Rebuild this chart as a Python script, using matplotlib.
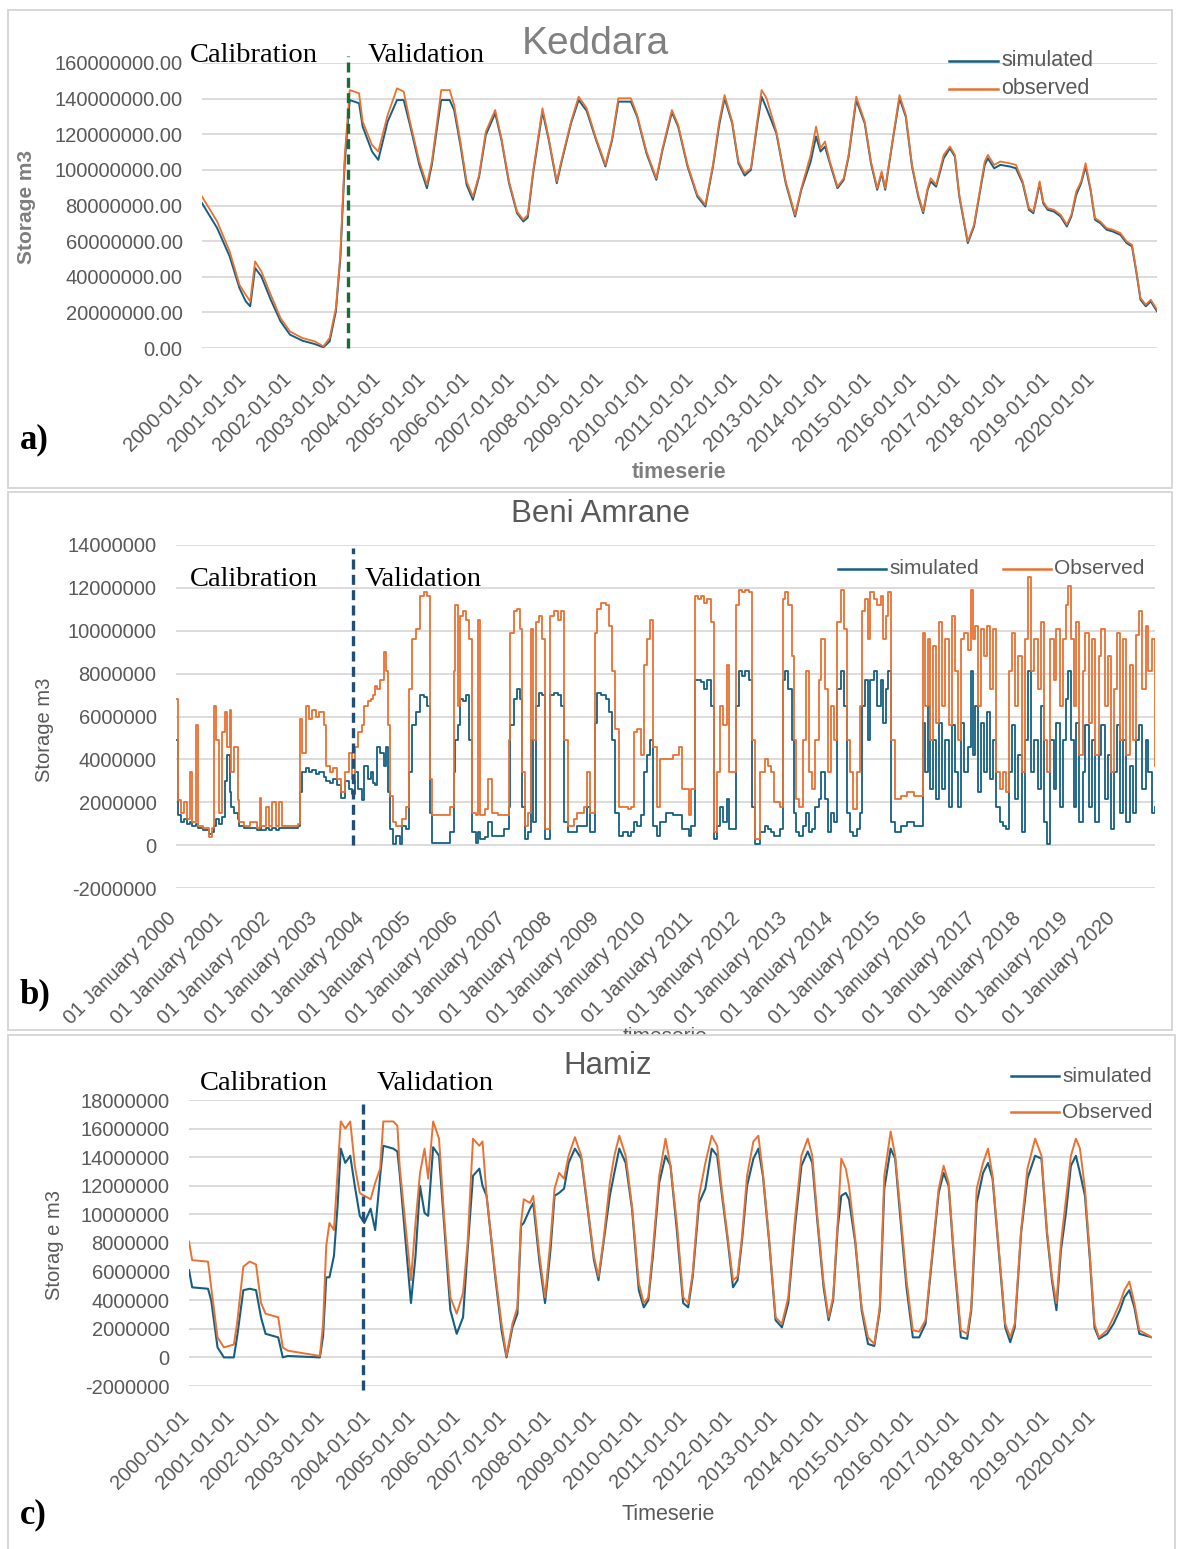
import numpy as np
import matplotlib.pyplot as plt
import matplotlib.dates as mdates
import matplotlib.transforms as mtransforms
from matplotlib.patches import Rectangle
from matplotlib.lines import Line2D
from matplotlib.ticker import FuncFormatter, MultipleLocator

plt.rcParams['font.family'] = ['Liberation Sans', 'DejaVu Sans']
plt.rcParams['axes.unicode_minus'] = False

# ---- Keddara storage (million m3), decimal years ----
keddara_years = [
    2000.00, 2000.34, 2000.62, 2000.84, 2000.98, 2001.08, 2001.19, 2001.33, 2001.54, 2001.76,
    2001.97, 2002.25, 2002.53, 2002.72, 2002.86, 2003.00, 2003.10, 2003.20, 2003.31, 2003.52,
    2003.60, 2003.81, 2003.95, 2004.16, 2004.37, 2004.52, 2004.66, 2004.87, 2005.04, 2005.15,
    2005.27, 2005.36, 2005.55, 2005.65, 2005.79, 2005.93, 2006.07, 2006.21, 2006.36, 2006.57,
    2006.71, 2006.88, 2007.06, 2007.20, 2007.30, 2007.42, 2007.63, 2007.77, 2007.95, 2008.05,
    2008.27, 2008.44, 2008.62, 2008.83, 2009.04, 2009.19, 2009.33, 2009.61, 2009.75, 2009.96,
    2010.18, 2010.32, 2010.53, 2010.67, 2010.88, 2011.10, 2011.28, 2011.45, 2011.59, 2011.71,
    2011.88, 2012.02, 2012.16, 2012.30, 2012.44, 2012.54, 2012.65, 2012.87, 2013.08, 2013.29,
    2013.43, 2013.64, 2013.76, 2013.86, 2013.96, 2014.07, 2014.24, 2014.38, 2014.49, 2014.66,
    2014.85, 2014.99, 2015.13, 2015.23, 2015.31, 2015.48, 2015.63, 2015.77, 2015.91, 2016.05,
    2016.16, 2016.26, 2016.33, 2016.45, 2016.62, 2016.76, 2016.87, 2016.97, 2017.16, 2017.30,
    2017.44, 2017.54, 2017.61, 2017.75, 2017.89, 2018.10, 2018.24, 2018.39, 2018.53, 2018.63,
    2018.71, 2018.77, 2018.85, 2018.95, 2019.09, 2019.24, 2019.38, 2019.48, 2019.59, 2019.70,
    2019.80, 2019.91, 2020.01, 2020.13, 2020.27, 2020.41, 2020.58, 2020.72, 2020.84, 2020.94,
    2021.03, 2021.15, 2021.26, 2021.40]
keddara_obs = [
    85.0, 71.0, 54.2, 35.5, 29.9, 26.2, 48.6, 43.0, 29.9, 16.8,
    9.3, 5.6, 3.7, 0.9, 5.6, 22.4, 52.3, 108.4, 144.8, 143.0,
    127.1, 114.0, 110.3, 130.8, 145.8, 143.9, 127.1, 104.7, 91.6, 104.7,
    127.1, 144.8, 144.8, 136.4, 115.9, 93.5, 85.0, 97.2, 121.5, 133.6,
    117.7, 93.5, 76.6, 72.0, 74.8, 99.1, 134.6, 117.7, 93.5, 104.7,
    127.1, 141.1, 134.6, 117.7, 102.8, 117.7, 140.2, 140.2, 130.8, 110.3,
    95.3, 112.1, 133.6, 125.2, 102.8, 86.0, 80.4, 102.8, 127.1, 142.0,
    127.1, 104.7, 98.1, 100.9, 127.1, 144.8, 140.2, 121.5, 93.5, 74.8,
    89.7, 108.4, 124.3, 112.1, 115.9, 104.7, 90.6, 95.3, 108.4, 141.1,
    127.1, 104.7, 89.7, 99.1, 89.7, 117.7, 142.0, 130.8, 102.8, 86.0,
    76.6, 89.7, 95.3, 91.6, 108.4, 113.1, 108.4, 86.0, 59.8, 69.2,
    89.7, 104.7, 108.4, 102.8, 104.7, 103.7, 102.8, 93.5, 78.5, 76.6,
    86.0, 93.5, 82.2, 78.5, 77.6, 74.8, 69.2, 74.8, 87.8, 93.5,
    103.7, 89.7, 72.9, 71.0, 67.3, 66.4, 64.5, 59.8, 57.9, 43.0,
    28.0, 24.3, 27.1, 21.5]
keddara_sim = [
    81.3, 67.3, 51.4, 33.6, 26.2, 23.4, 44.9, 40.2, 27.1, 15.0,
    7.5, 4.1, 2.2, 0.4, 3.7, 20.6, 50.5, 104.7, 139.2, 137.4,
    124.3, 110.3, 105.6, 127.1, 139.2, 139.2, 125.2, 102.8, 89.7, 102.8,
    124.3, 139.2, 139.2, 133.6, 114.0, 91.6, 83.2, 96.3, 119.6, 131.8,
    116.8, 92.5, 75.7, 71.0, 73.3, 98.1, 132.7, 116.8, 92.5, 103.7,
    126.2, 139.2, 133.1, 116.8, 101.9, 116.8, 138.3, 138.3, 129.9, 109.3,
    94.4, 111.2, 132.3, 124.3, 101.9, 85.0, 79.4, 101.9, 125.2, 140.2,
    126.2, 103.7, 96.8, 100.0, 125.2, 141.1, 134.6, 120.6, 92.5, 73.8,
    88.8, 104.7, 118.7, 110.3, 113.1, 103.7, 89.7, 94.4, 107.5, 139.2,
    126.2, 103.7, 88.8, 98.1, 88.8, 116.8, 140.2, 129.9, 101.9, 85.0,
    75.7, 88.8, 93.5, 90.6, 106.5, 112.1, 107.5, 85.0, 58.9, 68.2,
    88.8, 102.8, 106.5, 100.9, 102.8, 101.9, 100.9, 92.5, 77.6, 75.7,
    85.0, 92.5, 81.3, 77.6, 76.6, 73.8, 68.2, 73.8, 86.0, 92.5,
    101.9, 88.8, 72.0, 70.1, 66.4, 65.4, 63.5, 58.9, 57.0, 42.1,
    27.1, 23.4, 26.2, 20.6]
keddara_split = 2003.27

# ---- Beni Amrane storage (million m3) ----
beni_years = [
    2000.00, 2000.05, 2000.10, 2000.16, 2000.23, 2000.30, 2000.34, 2000.43, 2000.47, 2000.57,
    2000.70, 2000.77, 2000.81, 2000.86, 2000.91, 2000.97, 2001.04, 2001.08, 2001.14, 2001.18,
    2001.24, 2001.31, 2001.35, 2001.45, 2001.58, 2001.72, 2001.78, 2001.82, 2001.92, 2001.99,
    2002.05, 2002.12, 2002.19, 2002.26, 2002.39, 2002.60, 2002.64, 2002.69, 2002.76, 2002.84,
    2002.89, 2002.97, 2003.05, 2003.14, 2003.20, 2003.27, 2003.35, 2003.43, 2003.51, 2003.59,
    2003.68, 2003.74,
    2003.81, 2003.88, 2003.95, 2004.01, 2004.08, 2004.15, 2004.19, 2004.24, 2004.28, 2004.35,
    2004.42, 2004.46, 2004.51, 2004.55, 2004.62, 2004.69, 2004.76, 2004.82, 2004.89, 2004.96,
    2005.03, 2005.10, 2005.19, 2005.27, 2005.34, 2005.41, 2005.46, 2005.57, 2005.70, 2005.84,
    2005.91, 2005.93, 2006.00, 2006.04, 2006.11, 2006.18, 2006.24, 2006.31, 2006.38, 2006.42,
    2006.47, 2006.58, 2006.65, 2006.72, 2006.85, 2006.99, 2007.08, 2007.12, 2007.19, 2007.26,
    2007.32, 2007.37, 2007.42, 2007.49, 2007.55, 2007.60, 2007.66, 2007.73, 2007.80, 2007.86,
    2007.96, 2008.04, 2008.14, 2008.20, 2008.27, 2008.34, 2008.47, 2008.54, 2008.68, 2008.74,
    2008.81, 2008.92, 2008.97, 2009.05, 2009.15, 2009.22, 2009.28, 2009.35, 2009.42, 2009.51,
    2009.62, 2009.69, 2009.76, 2009.82, 2009.89, 2009.96, 2010.03, 2010.09, 2010.16, 2010.23,
    2010.30, 2010.43, 2010.57, 2010.70, 2010.77, 2010.91, 2010.97, 2011.05, 2011.11, 2011.18,
    2011.24, 2011.31, 2011.38, 2011.45, 2011.51, 2011.58, 2011.65, 2011.72, 2011.78, 2011.92,
    2011.99, 2012.05, 2012.12, 2012.19, 2012.26, 2012.32, 2012.43, 2012.53, 2012.60, 2012.66,
    2012.73, 2012.86, 2012.93, 2012.97, 2013.03, 2013.11, 2013.16, 2013.20, 2013.27, 2013.34,
    2013.41, 2013.47, 2013.54, 2013.61, 2013.68, 2013.74, 2013.81, 2013.88, 2013.95, 2014.01,
    2014.08, 2014.15, 2014.22, 2014.28, 2014.35, 2014.42, 2014.49, 2014.55, 2014.60, 2014.66,
    2014.72, 2014.78, 2014.86, 2014.92, 2015.00, 2015.05, 2015.11, 2015.16, 2015.23, 2015.30,
    2015.43, 2015.57, 2015.70, 2015.84, 2015.91, 2015.95, 2016.00, 2016.05, 2016.11, 2016.18,
    2016.24, 2016.31, 2016.38, 2016.45, 2016.51, 2016.58, 2016.65, 2016.72, 2016.78, 2016.85,
    2016.92, 2016.96, 2017.01, 2017.08, 2017.14, 2017.19, 2017.26, 2017.32, 2017.39, 2017.46,
    2017.53, 2017.60, 2017.66, 2017.73, 2017.80, 2017.86, 2017.93, 2018.00, 2018.07, 2018.14,
    2018.20, 2018.27, 2018.34, 2018.41, 2018.47, 2018.54, 2018.61, 2018.68, 2018.74, 2018.81,
    2018.88, 2018.95, 2018.99, 2019.05, 2019.11, 2019.16, 2019.23, 2019.30, 2019.36, 2019.43,
    2019.50, 2019.57, 2019.64, 2019.70, 2019.77, 2019.84, 2019.91, 2019.97, 2020.04, 2020.10,
    2020.16, 2020.23, 2020.30, 2020.37, 2020.43, 2020.50, 2020.57, 2020.64, 2020.70, 2020.77,
    2020.84]
beni_obs = [
    6.8, 2.1, 1.5, 2.0, 1.2, 3.4, 1.1, 5.6, 0.9, 0.8,
    0.4, 0.8, 6.5, 4.9, 1.5, 5.3, 6.2, 4.6, 6.3, 3.4,
    4.6, 2.1, 1.1, 0.9, 1.1, 0.8, 2.2, 0.9, 1.8, 0.9,
    2.0, 0.9, 2.0, 0.9, 0.9, 1.0, 5.9, 4.3, 6.5, 5.9,
    6.3, 6.0, 6.2, 5.6, 3.7, 3.4, 3.6, 3.1, 2.5, 3.4,
    4.3, 3.1,
    4.6, 5.3, 5.6, 6.5, 6.7, 6.8, 7.0, 7.4, 7.3, 7.7,
    9.0, 8.1, 5.6, 2.3, 1.1, 0.9, 0.9, 1.2, 1.8, 7.3,
    9.6, 10.1, 11.6, 11.8, 11.6, 3.1, 1.4, 1.4, 1.4, 1.8,
    8.1, 11.2, 6.5, 10.7, 10.9, 10.5, 9.6, 1.5, 1.4, 10.5,
    1.4, 1.7, 3.1, 1.5, 1.4, 1.4, 4.9, 9.9, 10.9, 11.0,
    10.1, 3.4, 0.9, 1.5, 10.1, 4.9, 10.4, 10.7, 9.6, 0.75,
    10.7, 10.9, 10.5, 10.9, 4.9, 0.9, 1.2, 1.5, 1.8, 3.4,
    1.5, 9.9, 11.0, 11.3, 11.2, 10.2, 8.1, 5.4, 1.8, 1.8,
    1.7, 1.8, 5.3, 5.4, 4.2, 8.4, 9.6, 10.5, 4.6, 1.8,
    4.0, 4.0, 4.2, 4.6, 2.6, 1.4, 2.6, 11.6, 11.5, 11.6,
    11.3, 11.5, 10.4, 0.6, 3.4, 6.5, 5.6, 8.4, 3.4, 11.2,
    11.9, 11.8, 11.9, 11.8, 4.9, 0.3, 3.4, 4.0, 3.7, 3.4,
    2.0, 1.8, 11.5, 11.8, 11.2, 8.8, 4.9, 2.15, 1.8, 4.9,
    8.1, 3.4, 2.6, 4.9, 7.7, 9.6, 7.3, 3.4, 6.5, 4.9,
    10.4, 11.9, 10.1, 4.9, 3.4, 1.7, 3.4, 6.5, 10.9, 11.5,
    9.6, 11.8, 11.5, 11.2, 11.6, 9.6, 10.7, 11.8, 4.9, 2.15,
    2.3, 2.5, 2.3, 2.3, 9.9, 6.5, 9.6, 4.9, 9.3, 5.7,
    10.4, 6.5, 9.6, 5.6, 10.7, 8.1, 4.9, 9.6, 9.9, 9.1,
    11.9, 9.6, 10.2, 6.5, 10.1, 8.8, 10.2, 7.3, 10.1, 3.4,
    2.6, 3.4, 2.5, 8.1, 9.9, 6.5, 8.8, 3.4, 9.6, 12.5,
    8.1, 9.6, 7.3, 10.4, 4.9, 3.4, 9.6, 7.7, 10.1, 6.5,
    9.6, 11.2, 12.1, 9.6, 6.5, 10.4, 4.2, 8.1, 9.9, 5.7,
    9.6, 4.2, 8.8, 10.1, 6.5, 8.8, 3.4, 7.3, 9.9, 4.9,
    9.6, 4.2, 8.4, 4.9, 9.8, 10.9, 7.3, 10.2, 8.1, 9.6,
    3.7]
beni_sim = [
    4.9, 1.4, 1.1, 1.2, 1.0, 1.1, 0.9, 1.0, 0.8, 0.7,
    0.5, 0.6, 0.9, 1.2, 1.0, 1.3, 3.0, 4.2, 2.5, 1.8,
    1.5, 1.2, 0.9, 0.8, 0.8, 0.7, 0.9, 0.7, 0.8, 0.7,
    0.8, 0.7, 0.8, 0.8, 0.8, 0.9, 2.5, 3.4, 3.6, 3.4,
    3.5, 3.3, 3.4, 3.2, 3.0, 2.9, 3.1, 2.8, 2.2, 3.0,
    2.6, 2.4,
    3.4, 2.6, 2.1, 3.7, 3.1, 3.4, 2.9, 2.8, 4.6, 4.3,
    3.7, 4.6, 2.5, 0.75, 0.05, 0.44, 0.05, 0.9, 0.75, 3.4,
    5.6, 6.2, 7.0, 6.9, 6.5, 1.5, 0.1, 0.1, 0.1, 0.6,
    3.4, 4.9, 5.6, 6.8, 6.7, 7.0, 4.9, 0.6, 0.1, 0.6,
    0.3, 0.4, 1.06, 0.44, 0.44, 0.75, 1.8, 5.6, 6.8, 7.3,
    6.8, 1.8, 0.3, 0.6, 4.9, 1.06, 6.5, 7.1, 7.0, 0.3,
    7.0, 7.1, 7.0, 6.5, 1.06, 0.6, 0.6, 0.9, 0.9, 1.8,
    0.6, 5.7, 7.1, 7.0, 6.8, 6.2, 4.9, 1.5, 0.44, 0.6,
    0.44, 0.6, 1.06, 0.9, 1.4, 3.4, 4.2, 4.9, 0.9, 0.44,
    1.06, 1.5, 1.4, 1.4, 0.75, 0.44, 0.9, 7.7, 7.7, 7.6,
    7.3, 7.7, 6.5, 0.3, 0.9, 1.8, 1.06, 2.15, 0.75, 6.5,
    8.1, 7.9, 8.1, 7.7, 1.8, 0.05, 0.6, 0.9, 0.75, 0.6,
    0.44, 0.75, 7.7, 8.1, 7.3, 4.9, 1.5, 0.6, 0.44, 0.9,
    1.5, 0.6, 0.75, 1.8, 2.15, 3.4, 2.15, 0.6, 1.5, 1.06,
    7.3, 8.1, 6.5, 1.5, 0.6, 0.44, 0.75, 1.5, 6.5, 7.7,
    4.9, 7.7, 8.1, 6.5, 7.7, 5.7, 7.3, 8.1, 1.06, 0.6,
    0.9, 1.06, 0.9, 0.9, 5.7, 3.4, 6.5, 2.6, 4.9, 2.15,
    5.7, 2.6, 4.9, 1.8, 5.6, 3.4, 1.8, 5.7, 3.4, 4.6,
    8.1, 4.2, 6.5, 2.5, 5.7, 3.4, 6.2, 3.1, 4.9, 1.8,
    1.06, 0.9, 0.75, 3.4, 5.6, 2.15, 4.2, 0.6, 4.9, 8.1,
    3.4, 4.9, 2.6, 6.5, 1.06, 0.05, 4.9, 2.6, 5.7, 1.8,
    4.9, 6.8, 8.1, 4.9, 1.8, 5.7, 1.06, 3.4, 5.6, 1.8,
    4.9, 1.06, 4.2, 5.6, 2.15, 4.2, 0.75, 3.4, 5.6, 1.5,
    4.9, 1.06, 3.7, 1.5, 4.9, 5.6, 2.6, 4.9, 3.4, 1.5,
    1.8]
beni_split = 2003.77

# ---- Hamiz storage (million m3) ----
hamiz_years = [
    2000.00, 2000.07, 2000.42, 2000.49, 2000.63, 2000.77, 2000.99, 2001.06, 2001.20, 2001.34,
    2001.48, 2001.59, 2001.69, 2001.97, 2002.07, 2002.18, 2002.89, 2002.96, 2003.03, 2003.10,
    2003.20, 2003.28, 2003.35, 2003.45, 2003.56, 2003.66, 2003.77, 2003.87, 2004.01, 2004.11,
    2004.22, 2004.29, 2004.51, 2004.60, 2004.65, 2004.79, 2004.90, 2005.00, 2005.10, 2005.20,
    2005.28, 2005.39, 2005.52, 2005.63, 2005.77, 2005.91, 2006.05, 2006.15, 2006.27, 2006.41,
    2006.48, 2006.57, 2006.76, 2006.90, 2007.01, 2007.14, 2007.25, 2007.33, 2007.39, 2007.53,
    2007.60, 2007.74, 2007.86, 2007.98, 2008.07, 2008.17, 2008.28, 2008.38, 2008.52, 2008.66,
    2008.80, 2008.94, 2009.04, 2009.15, 2009.29, 2009.39, 2009.50, 2009.64, 2009.78, 2009.93,
    2010.04, 2010.14, 2010.24, 2010.38, 2010.52, 2010.63, 2010.77, 2010.91, 2011.02, 2011.12,
    2011.26, 2011.40, 2011.54, 2011.66, 2011.76, 2011.90, 2012.01, 2012.11, 2012.21, 2012.32,
    2012.46, 2012.57, 2012.67, 2012.81, 2012.95, 2013.09, 2013.23, 2013.37, 2013.52, 2013.66,
    2013.76, 2013.87, 2014.01, 2014.12, 2014.22, 2014.32, 2014.40, 2014.50, 2014.57, 2014.71,
    2014.85, 2014.99, 2015.13, 2015.25, 2015.35, 2015.49, 2015.59, 2015.70, 2015.84, 2015.98,
    2016.12, 2016.26, 2016.40, 2016.55, 2016.66, 2016.77, 2016.89, 2017.04, 2017.18, 2017.27,
    2017.39, 2017.53, 2017.64, 2017.74, 2017.88, 2018.02, 2018.13, 2018.23, 2018.37, 2018.51,
    2018.68, 2018.82, 2018.94, 2019.05, 2019.15, 2019.25, 2019.36, 2019.47, 2019.58, 2019.67,
    2019.78, 2019.89, 2019.99, 2020.09, 2020.27, 2020.41, 2020.55, 2020.65, 2020.76, 2020.87,
    2020.98, 2021.26]
hamiz_obs = [
    8.1, 6.8, 6.7, 4.9, 1.4, 0.7, 0.9, 2.35, 6.35, 6.7,
    6.5, 3.8, 3.06, 2.8, 0.7, 0.47, 0.1, 2.35, 7.8, 9.4,
    8.9, 12.9, 16.5, 16.0, 16.5, 13.4, 11.5, 11.3, 11.06, 12.2,
    13.2, 16.5, 16.5, 16.2, 13.4, 8.9, 5.4, 9.4, 12.9, 14.6,
    12.5, 16.5, 15.3, 9.9, 4.2, 3.06, 4.5, 8.0, 15.3, 14.8,
    15.1, 11.3, 5.9, 2.35, 0.1, 2.35, 3.5, 9.4, 11.06, 10.8,
    11.3, 7.06, 4.2, 8.2, 11.8, 12.9, 12.5, 14.1, 15.4, 14.1,
    10.6, 7.06, 5.65, 8.2, 12.2, 14.1, 15.5, 14.1, 10.6, 5.2,
    3.8, 4.2, 7.5, 12.7, 15.3, 13.4, 9.4, 4.2, 3.8, 5.9,
    11.3, 13.6, 15.5, 14.8, 11.8, 8.2, 5.4, 5.65, 8.5, 12.7,
    15.1, 15.5, 12.9, 8.2, 2.8, 2.35, 4.2, 9.4, 14.1, 15.3,
    14.1, 9.9, 5.2, 2.8, 4.2, 9.4, 13.9, 13.2, 12.0, 8.2,
    3.5, 1.4, 0.94, 3.5, 12.7, 15.8, 14.1, 10.4, 5.4, 1.9,
    1.8, 2.6, 7.06, 11.8, 13.4, 12.2, 7.06, 1.9, 1.65, 3.5,
    11.8, 13.6, 14.6, 12.7, 7.5, 2.35, 1.4, 2.35, 8.9, 13.2,
    15.3, 14.1, 8.9, 5.65, 3.8, 8.0, 11.06, 14.1, 15.3, 14.6,
    11.8, 7.06, 2.35, 1.4, 1.9, 2.8, 3.8, 4.7, 5.3, 3.8,
    1.9, 1.4]
hamiz_sim = [
    6.1, 4.9, 4.8, 4.0, 0.7, 0.0, 0.0, 1.4, 4.7, 4.8,
    4.7, 2.8, 1.65, 1.4, 0.0, 0.1, 0.0, 1.5, 5.6, 5.6,
    7.1, 10.6, 14.6, 13.6, 14.1, 12.0, 9.9, 9.4, 10.4, 8.9,
    12.7, 14.8, 14.6, 14.4, 12.9, 7.8, 3.8, 7.06, 12.0, 10.1,
    9.9, 14.7, 14.1, 9.4, 3.3, 1.65, 2.8, 7.5, 12.7, 13.2,
    12.0, 11.3, 5.65, 1.9, 0.0, 2.1, 3.06, 9.2, 9.4, 10.4,
    10.8, 6.6, 3.8, 7.5, 11.3, 11.5, 11.8, 13.6, 14.6, 13.9,
    10.4, 6.8, 5.4, 8.0, 11.3, 12.9, 14.6, 13.6, 10.4, 4.7,
    3.5, 4.0, 7.06, 12.2, 14.1, 13.4, 8.9, 3.8, 3.5, 5.65,
    10.8, 11.8, 14.6, 14.1, 11.5, 8.0, 4.9, 5.4, 8.2, 12.0,
    13.9, 14.6, 12.7, 8.0, 2.6, 2.1, 3.8, 8.9, 13.4, 14.4,
    13.6, 9.6, 4.9, 2.6, 4.0, 9.0, 11.3, 11.5, 11.06, 8.0,
    3.3, 0.94, 0.8, 3.3, 11.8, 14.6, 13.9, 9.9, 4.9, 1.4,
    1.4, 2.35, 6.8, 11.5, 12.9, 12.0, 6.8, 1.4, 1.3, 3.3,
    10.8, 12.9, 13.6, 12.5, 7.3, 2.1, 1.06, 2.1, 8.7, 12.5,
    14.1, 13.9, 8.7, 5.4, 3.3, 7.5, 10.1, 13.4, 14.1, 12.9,
    11.3, 6.8, 2.1, 1.3, 1.65, 2.35, 3.3, 4.2, 4.7, 3.5,
    1.65, 1.4]
hamiz_split = 2003.84

tick_years = list(range(2000, 2021))

SIM_C = '#156082'
OBS_C = '#e97132'
GRID_C = '#d9d9d9'
TXT_C = '#595959'

W, H = 1182, 1549
fig = plt.figure(figsize=(W / 100, H / 100), dpi=100)


def to_dates(years):
    y = np.asarray(years, dtype=float)
    secs = np.round((y - 2000.0) * 365.25 * 86400).astype('int64')
    return np.datetime64('2000-01-01T00:00:00') + secs.astype('timedelta64[s]')


def px_rect(x0, y0, x1, y1):
    return [x0 / W, 1 - y1 / H, (x1 - x0) / W, (y1 - y0) / H]


def ftext(x, y, s, **kw):
    fig.text(x / W, 1 - y / H, s, **kw)


def panel_frame(x0, y0, x1, y1, z):
    fig.patches.append(Rectangle((x0 / W, 1 - y1 / H), (x1 - x0) / W, (y1 - y0) / H,
                                 transform=fig.transFigure, facecolor='white',
                                 edgecolor='#d4d4d4', lw=1.3, zorder=z))


def legend_entry(x0, x1, y, color, label, size, z=2):
    fig.add_artist(Line2D([x0 / W, x1 / W], [1 - y / H, 1 - y / H], color=color, lw=1.8,
                          transform=fig.transFigure, zorder=z))
    ftext(x1 + 3, y, label, color=TXT_C, fontsize=size, va='center', ha='left', zorder=z)


def setup(ax, lo, hi, step, fmt, date_fmt, x_end, fs=14.5):
    ax.set_ylim(lo, hi)
    ax.yaxis.set_major_locator(MultipleLocator(step))
    ax.yaxis.set_major_formatter(FuncFormatter(fmt))
    ax.grid(axis='y', color=GRID_C, lw=1.3)
    ax.set_axisbelow(True)
    for sp in ax.spines.values():
        sp.set_visible(False)
    jan_first = np.array([f'{y}-01-01' for y in tick_years], dtype='datetime64[s]')
    ax.set_xticks(jan_first)
    ax.xaxis.set_major_formatter(mdates.DateFormatter(date_fmt))
    ax.tick_params(length=0, colors=TXT_C, labelsize=fs)
    ax.tick_params(axis='y', pad=14)
    ax.tick_params(axis='x', pad=15)
    ax.set_xlim(to_dates([2000.0, x_end]))
    # rotated date labels, nudged so their upper end sits on the tick
    shift = mtransforms.ScaledTranslation(-7 / 72, 0, fig.dpi_scale_trans)
    for lbl in ax.get_xticklabels():
        lbl.set_rotation(45)
        lbl.set_ha('right')
        lbl.set_va('top')
        lbl.set_rotation_mode('anchor')
        lbl.set_transform(lbl.get_transform() + shift)


# panel frames
panel_frame(8, 10, 1172, 488, -2)
panel_frame(8, 492, 1172, 1030, -2)

# ---------- a) Keddara ----------
ax1 = fig.add_axes(px_rect(202, 63, 1157, 348))
setup(ax1, 0, 160e6, 20e6, lambda v, _: f'{v:.2f}', '%Y-%m-%d', keddara_years[-1])
kd = to_dates(keddara_years)
ax1.plot(kd, np.array(keddara_sim) * 1e6, color=SIM_C, lw=1.4)
ax1.plot(kd, np.array(keddara_obs) * 1e6, color=OBS_C, lw=1.3)
ax1.axvline(to_dates([keddara_split])[0], ymin=0, ymax=1.025, color='#1d6b33', lw=2.4,
            ls=(0, (3, 1.6)), clip_on=False)
ftext(595, 44, 'Keddara', color='#808080', fontsize=28, ha='center', va='center')
ftext(190, 55, 'Calibration', family='Liberation Serif', fontsize=20.5, va='center')
ftext(368, 55, 'Validation', family='Liberation Serif', fontsize=20.5, va='center')
legend_entry(949, 998, 61, SIM_C, 'simulated', 15.5)
legend_entry(949, 998, 89, OBS_C, 'observed', 15.5)
ftext(26, 207, 'Storage m3', color='#7f7f7f', fontsize=15, fontweight='bold',
      rotation=90, ha='center', va='center')
ftext(679, 472, 'timeserie', color='#7f7f7f', fontsize=15.5, fontweight='bold',
      ha='center', va='center')
ftext(20, 440, 'a)', family='Liberation Serif', fontsize=25, fontweight='bold', va='center')

# ---------- b) Beni Amrane ----------
ax2 = fig.add_axes(px_rect(176, 545, 1155, 888))
setup(ax2, -2e6, 14e6, 2e6, lambda v, _: f'{v:.0f}', '%d %B %Y', beni_years[-1])
bd = to_dates(beni_years)
ax2.plot(bd, np.array(beni_sim) * 1e6, color=SIM_C, lw=1.3, drawstyle='steps-post')
ax2.plot(bd, np.array(beni_obs) * 1e6, color=OBS_C, lw=1.3, drawstyle='steps-post')
ax2.axvline(to_dates([beni_split])[0], ymin=0.125, ymax=0.99, color='#1f4e79', lw=2.4,
            ls=(0, (3, 1.6)))
ftext(601, 514, 'Beni Amrane', color=TXT_C, fontsize=22.5, ha='center', va='center')
ftext(190, 579, 'Calibration', family='Liberation Serif', fontsize=20.5, va='center')
ftext(365, 579, 'Validation', family='Liberation Serif', fontsize=20.5, va='center')
legend_entry(838, 886, 569, SIM_C, 'simulated', 15)
legend_entry(1003, 1051, 569, OBS_C, 'Observed', 15)
ftext(45, 730, 'Storage m3', color=TXT_C, fontsize=14.5, rotation=90, ha='center', va='center')
ftext(665, 1037, 'timeserie', color=TXT_C, fontsize=15, ha='center', va='center', zorder=0.5)
ftext(20, 995, 'b)', family='Liberation Serif', fontsize=25, fontweight='bold', va='center')

# ---------- c) Hamiz ----------
panel_frame(8, 1035, 1175, 1560, 0.8)
ax3 = fig.add_axes(px_rect(189, 1100, 1152, 1386))
ax3.set_zorder(1)
setup(ax3, -2e6, 18e6, 2e6, lambda v, _: f'{v:.0f}', '%Y-%m-%d', hamiz_years[-1])
hd = to_dates(hamiz_years)
ax3.plot(hd, np.array(hamiz_sim) * 1e6, color=SIM_C, lw=1.5)
ax3.plot(hd, np.array(hamiz_obs) * 1e6, color=OBS_C, lw=1.4)
ax3.axvline(to_dates([hamiz_split])[0], ymin=-0.015, ymax=1.0, color='#1f4e79', lw=2.4,
            ls=(0, (3, 1.6)), clip_on=False)
ftext(608, 1066, 'Hamiz', color=TXT_C, fontsize=22.5, ha='center', va='center', zorder=2)
ftext(200, 1083, 'Calibration', family='Liberation Serif', fontsize=20.5, va='center', zorder=2)
ftext(377, 1083, 'Validation', family='Liberation Serif', fontsize=20.5, va='center', zorder=2)
legend_entry(1011, 1059, 1076, SIM_C, 'simulated', 15)
legend_entry(1011, 1059, 1112, OBS_C, 'Observed', 15)
ftext(55, 1245, 'Storag e m3', color=TXT_C, fontsize=14.5, rotation=90,
      ha='center', va='center', zorder=2)
ftext(668, 1515, 'Timeserie', color=TXT_C, fontsize=15.5, ha='center', va='center', zorder=2)
ftext(20, 1515, 'c)', family='Liberation Serif', fontsize=25, fontweight='bold',
      va='center', zorder=2)

fig.savefig('out.png', dpi=100, facecolor='white')
